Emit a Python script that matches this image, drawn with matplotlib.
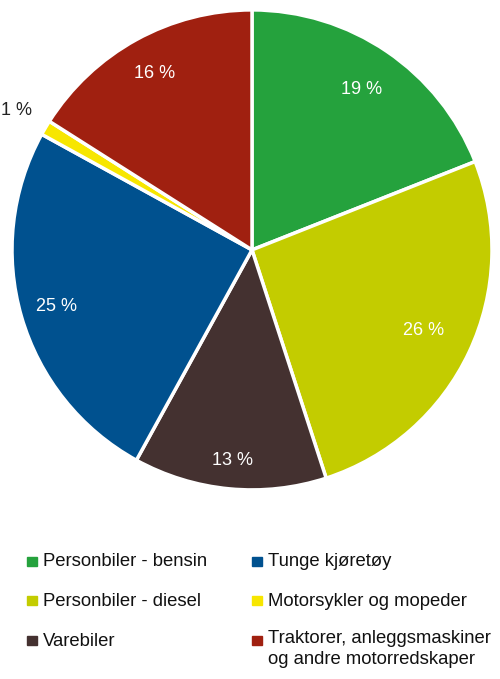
import numpy as np
import matplotlib
matplotlib.use("Agg")
import matplotlib.pyplot as plt
from matplotlib.patches import Rectangle

plt.rcParams['font.family'] = ['Liberation Sans', 'DejaVu Sans']

# Andel per kjøretøygruppe (%)
kategorier = ["Personbiler - bensin", "Personbiler - diesel", "Varebiler",
              "Tunge kjøretøy", "Motorsykler og mopeder",
              "Traktorer, anleggsmaskiner\nog andre motorredskaper"]
andeler = [19, 26, 13, 25, 1, 16]
farger = ["#25a23d", "#c3cc00", "#443130", "#00518f", "#f7e600", "#a02010"]
# avstand fra sentrum for etikettene (andel av radius)
etikett_r = [0.81, 0.79, 0.88, 0.85, 1.14, 0.84]

fig = plt.figure(figsize=(5, 6.79), dpi=100)
ax = fig.add_axes([0.024, 0.2785, 0.96, 0.7069])
wedges, _ = ax.pie(andeler, colors=farger, startangle=90, counterclock=False,
                   wedgeprops=dict(edgecolor="white", linewidth=2.5))
ax.set_xlim(-1, 1)
ax.set_ylim(-1, 1)
ax.set_aspect("equal")

# prosentetiketter
for w, v, r in zip(wedges, andeler, etikett_r):
    mid = np.deg2rad((w.theta1 + w.theta2) / 2)
    col = "#222222" if r > 1 else "white"
    ax.text(r * np.cos(mid), r * np.sin(mid), f"{v} %", ha="center", va="center",
            color=col, fontsize=13)

# forklaring
kol_x = [0.054, 0.504]
rad_y = [1 - 562 / 679, 1 - 601 / 679, 1 - 641 / 679]
for i, (navn, f) in enumerate(zip(kategorier, farger)):
    x = kol_x[i // 3]
    y = rad_y[i % 3]
    fig.patches.append(Rectangle((x, y - 0.006), 0.019, 0.014,
                                 transform=fig.transFigure, color=f))
    if "\n" in navn:
        fig.text(x + 0.032, y + 0.016, navn, ha="left", va="top",
                 fontsize=13.3, color="#111111", linespacing=1.3)
    else:
        fig.text(x + 0.032, y, navn, ha="left", va="center",
                 fontsize=13.3, color="#111111")

fig.savefig("out.png", dpi=100, facecolor="white")
